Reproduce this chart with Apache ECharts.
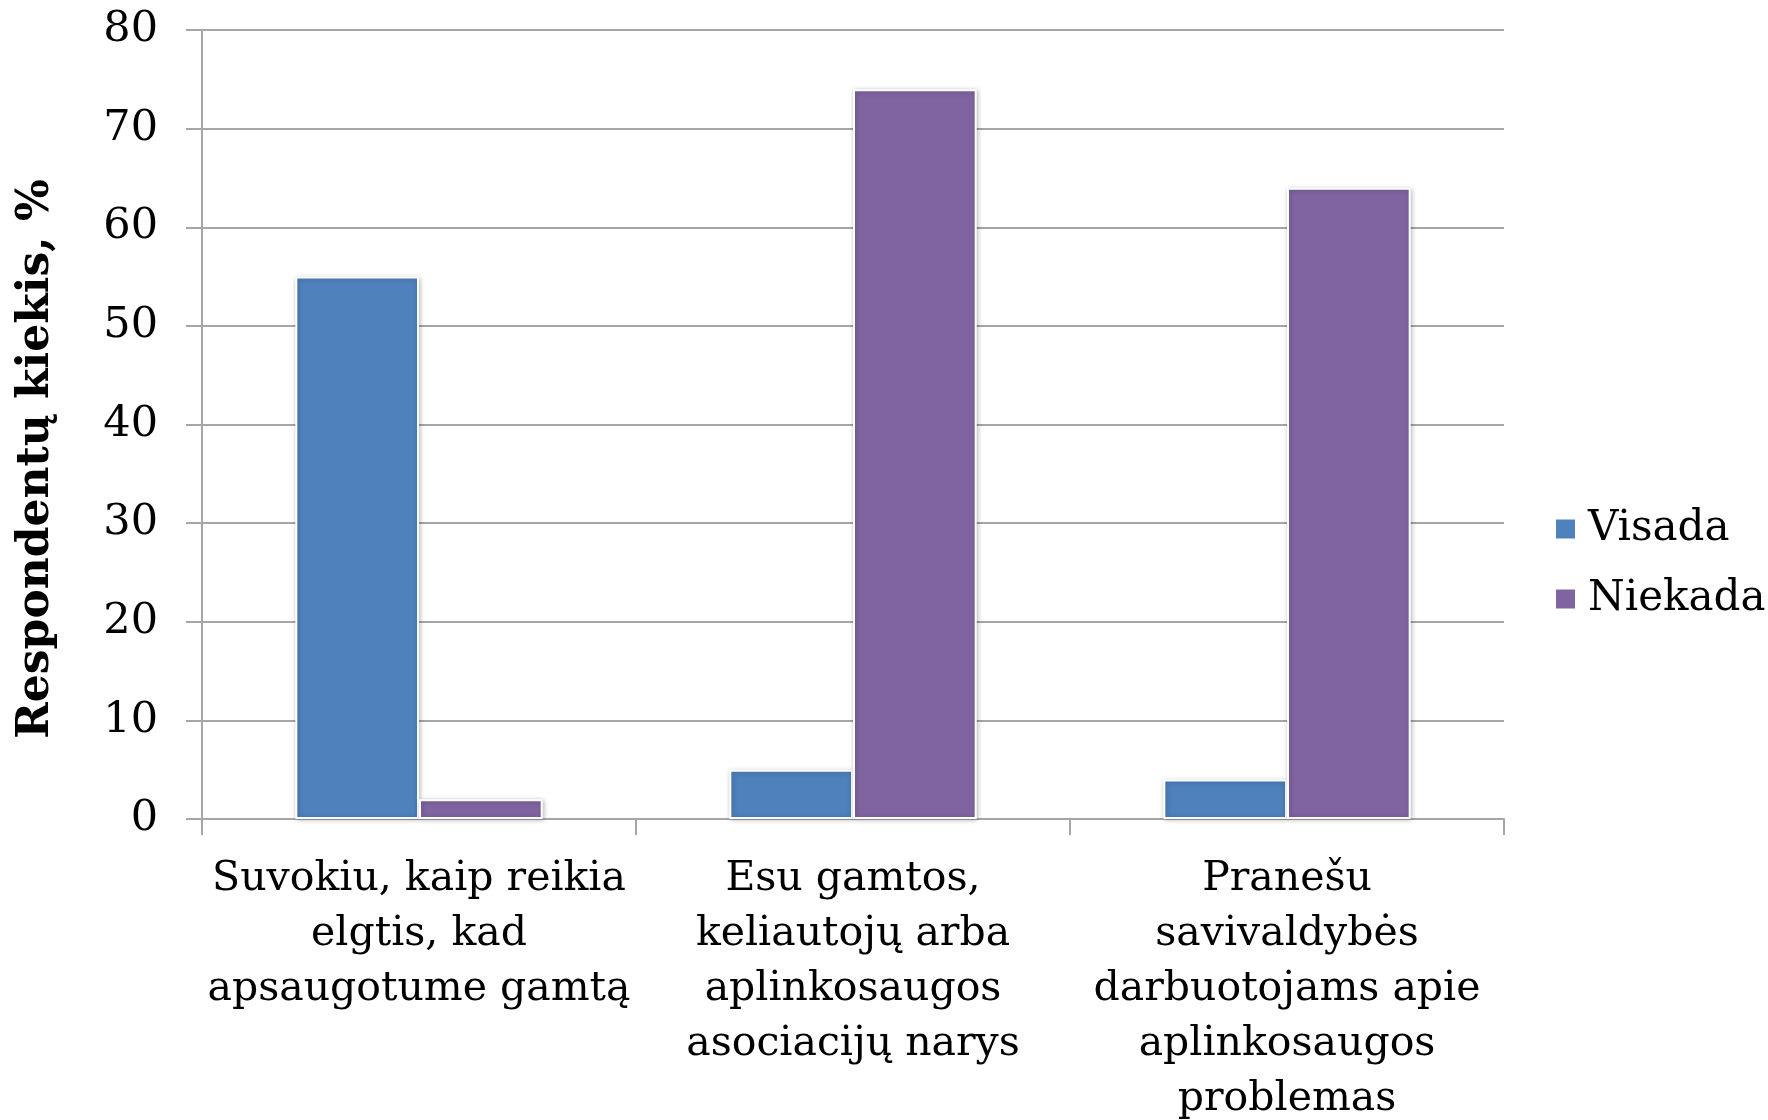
<!DOCTYPE html>
<html>
<head>
<meta charset="utf-8">
<script src="https://cdn.jsdelivr.net/npm/echarts@6/dist/echarts.min.js"></script>
<style>
  html, body { margin: 0; padding: 0; background: #fff; }
  #chart { width: 1768px; height: 1120px; }
</style>
</head>
<body>
<div id="chart"></div>
<script>
var categories = [
  'Suvokiu, kaip reikia\nelgtis, kad\napsaugotume gamtą',
  'Esu gamtos,\nkeliautojų arba\naplinkosaugos\nasociacijų narys',
  'Pranešu\nsavivaldybės\ndarbuotojams apie\naplinkosaugos\nproblemas'
];
var visada = [55, 5, 4];
var niekada = [2, 74, 64];
var yTicks = { min: 0, max: 80, interval: 10 };

var FONT = 'DejaVu Serif';
var chart = echarts.init(document.getElementById('chart'));

function barSeries(name, data, color) {
  return {
    name: name,
    type: 'bar',
    data: data,
    barGap: '0%',
    barCategoryGap: '43%',
    itemStyle: {
      color: color,
      borderColor: '#fff',
      borderWidth: 2,
      shadowBlur: 5,
      shadowColor: 'rgba(0,0,0,0.25)',
      shadowOffsetX: 1,
      shadowOffsetY: 1
    }
  };
}

chart.setOption({
  animation: false,
  textStyle: { fontFamily: FONT, color: '#000' },
  grid: { left: 202, right: 264, top: 30, bottom: 301, outerBoundsMode: 'none', containLabel: false },
  legend: {
    orient: 'vertical',
    left: 1549,
    top: 503,
    itemWidth: 21,
    itemHeight: 21,
    itemGap: 28,
    icon: 'rect',
    textStyle: { fontFamily: FONT, fontSize: 42, color: '#000', padding: [0, 0, 0, 7] },
    data: ['Visada', 'Niekada']
  },
  graphic: [{
    type: 'text',
    x: 37,
    y: 459,
    rotation: Math.PI / 2,
    style: {
      text: 'Respondentų kiekis, %',
      font: 'bold 44px ' + FONT,
      fill: '#000',
      textAlign: 'center',
      textVerticalAlign: 'middle'
    }
  }],
  xAxis: {
    type: 'category',
    data: categories,
    axisLine: { lineStyle: { color: '#a6a6a6', width: 2 } },
    axisTick: { show: true, length: 16, lineStyle: { color: '#a6a6a6', width: 2 } },
    axisLabel: {
      interval: 0,
      margin: 33,
      fontFamily: FONT,
      fontSize: 41,
      lineHeight: 55,
      color: '#000',
      align: 'center'
    }
  },
  yAxis: {
    type: 'value',
    min: yTicks.min,
    max: yTicks.max,
    interval: yTicks.interval,
    axisLine: { show: true, lineStyle: { color: '#a6a6a6', width: 2 } },
    axisTick: { show: true, length: 16, lineStyle: { color: '#a6a6a6', width: 2 } },
    splitLine: { lineStyle: { color: '#a6a6a6', width: 2 } },
    axisLabel: {
      margin: 44,
      fontFamily: FONT,
      fontSize: 43,
      color: '#000'
    }
  },
  series: [
    barSeries('Visada', visada, '#4f81bd'),
    barSeries('Niekada', niekada, '#8064a2')
  ]
});
</script>
</body>
</html>
